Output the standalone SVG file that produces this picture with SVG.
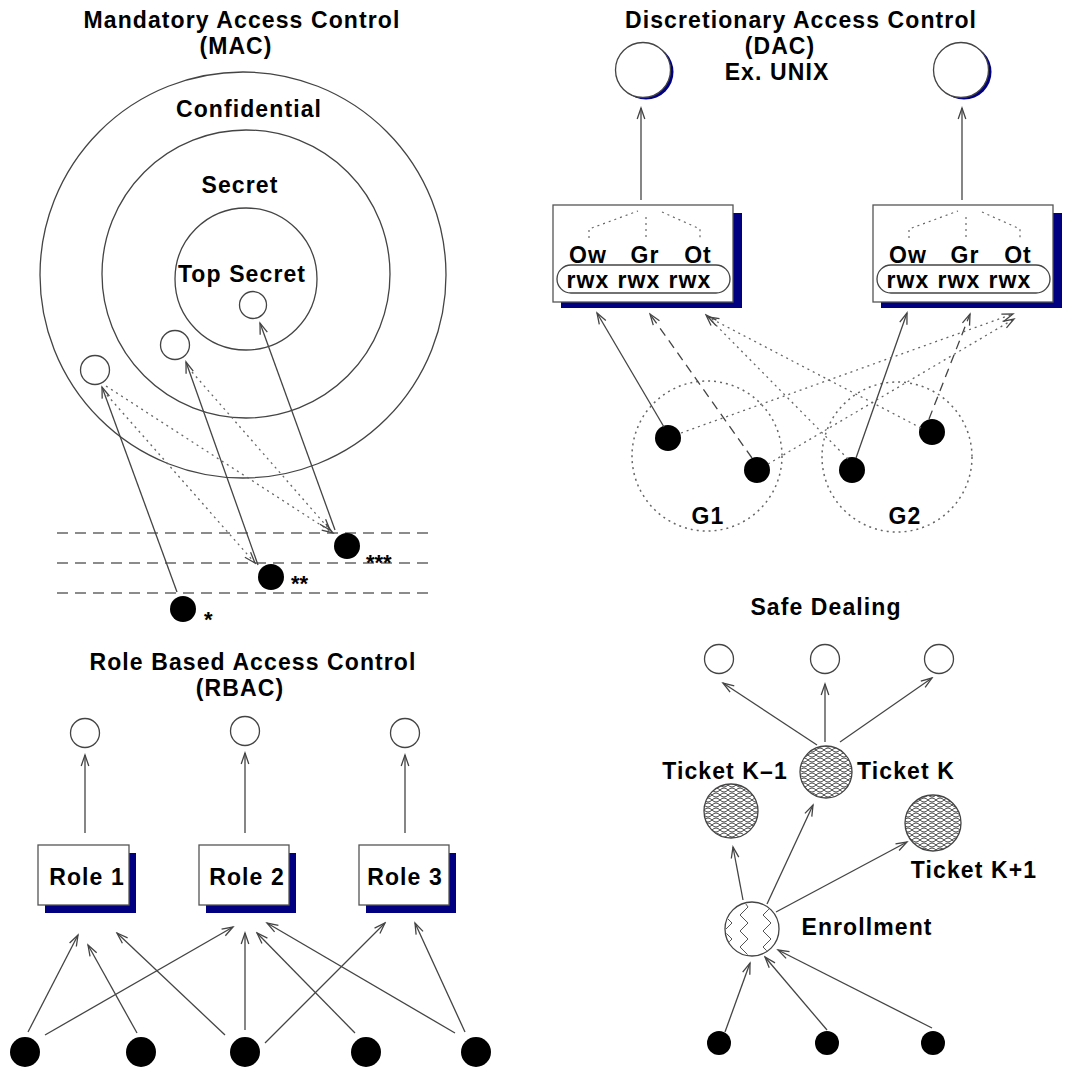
<svg xmlns="http://www.w3.org/2000/svg" width="1068" height="1072" viewBox="0 0 1068 1072">
<style>
text{font-family:"Liberation Sans",Arial,Helvetica,sans-serif;font-weight:bold;fill:#000;}
.t{font-size:23px;letter-spacing:1.1px;text-anchor:middle;}
.s{font-size:22px;}
.ring{fill:none;stroke:#444;stroke-width:1.3;}
.hol{fill:#fff;stroke:#444;stroke-width:1.3;}
.dot{fill:#000;}
.box{fill:#fff;stroke:#555;stroke-width:1.3;}
.sh{fill:#000080;}
.c{fill:none;stroke:#444;stroke-width:1.3;}
.ar{marker-end:url(#ah);}
.dsh{stroke-dasharray:9 6;}
.dot2{stroke:#666;stroke-dasharray:2 4;}
.lvl{fill:none;stroke:#666;stroke-width:1.5;stroke-dasharray:11 7;}
.grp{fill:none;stroke:#666;stroke-width:1.5;stroke-dasharray:2 4;}
</style>
<defs>
<marker id="ah" markerUnits="userSpaceOnUse" markerWidth="14" markerHeight="12" viewBox="-12 -6 14 12" refX="0" refY="0" orient="auto">
<path d="M-11,-3.8 L0,0 L-11,3.8" fill="none" stroke="#444" stroke-width="1.3"/>
</marker>
<pattern id="hatch" patternUnits="userSpaceOnUse" width="8" height="5">
<rect width="8" height="5" fill="#fff"/>
<path d="M0,0 Q4,4 8,0 M0,5 Q4,1 8,5" fill="none" stroke="#333" stroke-width="0.9"/>
</pattern>
<clipPath id="enc"><circle cx="752" cy="929" r="26"/></clipPath>
</defs>

<!-- MAC -->
<g id="mac-title">
<text class="t" x="242" y="28">Mandatory Access Control</text>
<text class="t" x="236" y="54">(MAC)</text>
</g>
<g id="mac-confidential">
<circle class="ring" cx="243" cy="275" r="203"/>
<text class="t" x="249" y="117">Confidential</text>
</g>
<g id="mac-secret">
<circle class="ring" cx="246" cy="274" r="144"/>
<text class="t" x="240" y="193">Secret</text>
</g>
<g id="mac-topsecret">
<circle class="ring" cx="246" cy="279" r="71"/>
<text class="t" x="242" y="282">Top Secret</text>
</g>
<g id="mac-obj1"><circle class="hol" cx="253" cy="305" r="13.5"/></g>
<g id="mac-obj2"><circle class="hol" cx="175" cy="345" r="14.5"/></g>
<g id="mac-obj3"><circle class="hol" cx="95" cy="370" r="14.5"/></g>
<g id="mac-levels">
<line class="lvl" x1="57" y1="533" x2="430" y2="533"/>
<line class="lvl" x1="57" y1="563" x2="430" y2="563"/>
<line class="lvl" x1="57" y1="593" x2="430" y2="593"/>
</g>
<g id="mac-subj3"><circle class="dot" cx="347" cy="546" r="13"/><text class="s" x="366" y="570">***</text></g>
<g id="mac-subj2"><circle class="dot" cx="271" cy="577" r="13"/><text class="s" x="291" y="591">**</text></g>
<g id="mac-subj1"><circle class="dot" cx="183" cy="609" r="13"/><text class="s" x="204" y="627">*</text></g>

<!-- DAC -->
<g id="dac-title">
<text class="t" x="801" y="28">Discretionary Access Control</text>
<text class="t" x="780" y="54">(DAC)</text>
<text class="t" x="777" y="80">Ex. UNIX</text>
</g>
<g id="dac-obj1"><circle class="sh" cx="646" cy="72" r="27.5"/><circle class="hol" cx="643" cy="70" r="27.5"/></g>
<g id="dac-obj2"><circle class="sh" cx="964" cy="72" r="27.5"/><circle class="hol" cx="961" cy="70" r="27.5"/></g>
<g id="dac-box1">
<rect class="sh" x="561" y="213" width="181" height="95"/>
<rect class="box" x="553" y="205" width="180" height="97"/>
<path class="grp" d="M589,238 L589,229 L638,211 M646,217 L646,238 M662,212 L700,229 L700,238" style="stroke-width:1.2"/>
<text class="t" x="588" y="263">Ow</text><text class="t" x="645" y="263">Gr</text><text class="t" x="698" y="263">Ot</text>
<rect x="557" y="265" width="173" height="28" rx="14" fill="none" stroke="#444" stroke-width="1.3"/>
<text class="t" x="588" y="288">rwx</text><text class="t" x="639" y="288">rwx</text><text class="t" x="690" y="288">rwx</text>
</g>
<g id="dac-box2">
<rect class="sh" x="881" y="213" width="181" height="95"/>
<rect class="box" x="873" y="205" width="180" height="97"/>
<path class="grp" d="M909,238 L909,229 L958,211 M966,217 L966,238 M982,212 L1020,229 L1020,238" style="stroke-width:1.2"/>
<text class="t" x="908" y="263">Ow</text><text class="t" x="965" y="263">Gr</text><text class="t" x="1018" y="263">Ot</text>
<rect x="877" y="265" width="173" height="28" rx="14" fill="none" stroke="#444" stroke-width="1.3"/>
<text class="t" x="908" y="288">rwx</text><text class="t" x="959" y="288">rwx</text><text class="t" x="1010" y="288">rwx</text>
</g>
<g id="dac-g1">
<circle class="grp" cx="707" cy="456" r="75"/>
<text class="t" x="708" y="524">G1</text>
<circle class="dot" cx="668" cy="438" r="13"/>
<circle class="dot" cx="757" cy="470" r="13"/>
</g>
<g id="dac-g2">
<circle class="grp" cx="897" cy="457" r="75"/>
<text class="t" x="905" y="524">G2</text>
<circle class="dot" cx="852" cy="470" r="13"/>
<circle class="dot" cx="932" cy="432" r="13"/>
</g>

<!-- Safe Dealing -->
<g id="sd-title"><text class="t" x="826" y="615">Safe Dealing</text></g>
<g id="sd-obj1"><circle class="hol" cx="719" cy="659" r="14.5"/></g>
<g id="sd-obj2"><circle class="hol" cx="825" cy="659" r="14.5"/></g>
<g id="sd-obj3"><circle class="hol" cx="939" cy="659" r="14.5"/></g>
<g id="sd-ticketk"><circle cx="826" cy="772" r="26" fill="url(#hatch)" stroke="#444" stroke-width="1.3"/><text class="t" x="906" y="779">Ticket K</text></g>
<g id="sd-ticketk-1"><circle cx="731" cy="811" r="27" fill="url(#hatch)" stroke="#444" stroke-width="1.3"/><text class="t" x="725" y="779">Ticket K–1</text></g>
<g id="sd-ticketk+1"><circle cx="933" cy="823" r="28" fill="url(#hatch)" stroke="#444" stroke-width="1.3"/><text class="t" x="974" y="878">Ticket K+1</text></g>
<g id="sd-enrollment">
<circle cx="752" cy="929" r="27" fill="#fff"/>
<g clip-path="url(#enc)" fill="none" stroke="#555" stroke-width="1">
<polyline points="727,900 732,907 724,915 732,923 724,931 732,939 724,947 732,955 724,963"/>
<polyline points="743,900 748,907 740,915 748,923 740,931 748,939 740,947 748,955 740,963"/>
<polyline points="766,900 771,907 763,915 771,923 763,931 771,939 763,947 771,955 763,963"/>
</g>
<circle cx="752" cy="929" r="27" fill="none" stroke="#444" stroke-width="1.3"/>
<text class="t" x="867" y="935">Enrollment</text>
</g>
<g id="sd-user1"><circle class="dot" cx="719" cy="1043" r="12"/></g>
<g id="sd-user2"><circle class="dot" cx="827" cy="1043" r="12"/></g>
<g id="sd-user3"><circle class="dot" cx="933" cy="1043" r="12"/></g>

<!-- RBAC -->
<g id="rbac-title">
<text class="t" x="253" y="670">Role Based Access Control</text>
<text class="t" x="240" y="696">(RBAC)</text>
</g>
<g id="rbac-obj1"><circle class="hol" cx="85" cy="733" r="14.5"/></g>
<g id="rbac-obj2"><circle class="hol" cx="245" cy="731" r="14.5"/></g>
<g id="rbac-obj3"><circle class="hol" cx="405" cy="733" r="14.5"/></g>
<g id="rbac-role1"><rect class="sh" x="45" y="853" width="91" height="60"/><rect class="box" x="38" y="845" width="91" height="60"/><text class="t" x="87" y="885">Role 1</text></g>
<g id="rbac-role2"><rect class="sh" x="206" y="853" width="90" height="60"/><rect class="box" x="199" y="845" width="90" height="60"/><text class="t" x="247" y="885">Role 2</text></g>
<g id="rbac-role3"><rect class="sh" x="366" y="853" width="90" height="60"/><rect class="box" x="359" y="845" width="90" height="60"/><text class="t" x="405" y="885">Role 3</text></g>
<g id="rbac-u1"><circle class="dot" cx="25" cy="1052" r="15"/></g>
<g id="rbac-u2"><circle class="dot" cx="141" cy="1052" r="15"/></g>
<g id="rbac-u3"><circle class="dot" cx="245" cy="1052" r="15"/></g>
<g id="rbac-u4"><circle class="dot" cx="366" cy="1052" r="15"/></g>
<g id="rbac-u5"><circle class="dot" cx="476" cy="1052" r="15"/></g>

<g id="connectors" class="c">
<!-- MAC -->
<line class="c ar" x1="177" y1="592" x2="102" y2="387"/>
<line class="c ar" x1="258" y1="565" x2="186" y2="362"/>
<line class="c ar" x1="335" y1="530" x2="260" y2="323"/>
<line class="c ar dot2" x1="106" y1="386" x2="333" y2="533"/>
<line class="c ar dot2" x1="107" y1="395" x2="255" y2="563"/>
<line class="c ar dot2" x1="192" y1="372" x2="330" y2="530"/>
<!-- DAC -->
<line class="c ar" x1="641" y1="200" x2="641" y2="108"/>
<line class="c ar" x1="962" y1="200" x2="962" y2="108"/>
<line class="c ar" x1="664" y1="427" x2="597" y2="313"/>
<line class="c ar dsh" x1="752" y1="458" x2="650" y2="314"/>
<line class="c ar dot2" x1="848" y1="459" x2="706" y2="315"/>
<line class="c ar dot2" x1="921" y1="428" x2="708" y2="317"/>
<line class="c ar" x1="856" y1="458" x2="907" y2="313"/>
<line class="c ar dsh" x1="929" y1="419" x2="970" y2="314"/>
<line class="c ar dot2" x1="681" y1="433" x2="1013" y2="314"/>
<line class="c ar dot2" x1="768" y1="464" x2="1014" y2="319"/>
<!-- Safe Dealing -->
<line class="c ar" x1="817" y1="745" x2="723" y2="683"/>
<line class="c ar" x1="825" y1="742" x2="825" y2="684"/>
<line class="c ar" x1="840" y1="742" x2="932" y2="678"/>
<line class="c ar" x1="743" y1="900" x2="733" y2="847"/>
<line class="c ar" x1="767" y1="904" x2="813" y2="805"/>
<line class="c ar" x1="776" y1="912" x2="907" y2="842"/>
<line class="c ar" x1="725" y1="1032" x2="750" y2="963"/>
<line class="c ar" x1="827" y1="1030" x2="765" y2="957"/>
<line class="c ar" x1="932" y1="1028" x2="778" y2="950"/>
<!-- RBAC -->
<line class="c ar" x1="85" y1="833" x2="85" y2="755"/>
<line class="c ar" x1="245" y1="833" x2="245" y2="753"/>
<line class="c ar" x1="405" y1="833" x2="405" y2="755"/>
<line class="c ar" x1="28" y1="1032" x2="78" y2="935"/>
<line class="c ar" x1="45" y1="1035" x2="233" y2="927"/>
<line class="c ar" x1="137" y1="1033" x2="88" y2="945"/>
<line class="c ar" x1="225" y1="1035" x2="117" y2="933"/>
<line class="c ar" x1="245" y1="1030" x2="245" y2="933"/>
<line class="c ar" x1="265" y1="1043" x2="385" y2="923"/>
<line class="c ar" x1="355" y1="1033" x2="257" y2="933"/>
<line class="c ar" x1="455" y1="1033" x2="267" y2="923"/>
<line class="c ar" x1="465" y1="1032" x2="415" y2="923"/>
</g>
</svg>
